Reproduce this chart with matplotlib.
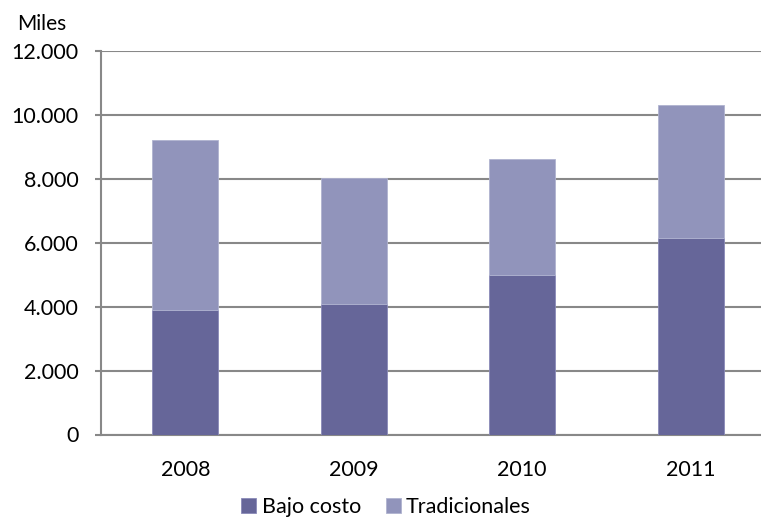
import matplotlib
matplotlib.use("Agg")
import matplotlib.pyplot as plt
import numpy as np

years = ["2008", "2009", "2010", "2011"]
bajo_costo = [3890, 4080, 5000, 6150]
tradicionales = [5340, 3940, 3610, 4170]
yticks = [0, 2000, 4000, 6000, 8000, 10000, 12000]
ytick_labels = ["0", "2.000", "4.000", "6.000", "8.000", "10.000", "12.000"]

plt.rcParams['font.family'] = ['Lato', 'DejaVu Sans']

W, H = 761, 517
fig = plt.figure(figsize=(W/100, H/100), dpi=100)
ax = fig.add_axes([101/W, (H-434.5)/H, (W-101)/W, (434.5-51)/H])

x = np.arange(len(years))
c1 = "#666699"
c2 = "#9194BB"
ax.bar(x, bajo_costo, width=0.39, color=c1, edgecolor="#8A8AB8", linewidth=0.6, label="Bajo costo", zorder=3)
ax.bar(x, tradicionales, bottom=bajo_costo, width=0.39, color=c2, edgecolor="#B0B3D0", linewidth=0.6, label="Tradicionales", zorder=3)

ax.set_xlim(-0.5, -0.5 + (W-101)/168.5)
ax.set_ylim(0, 12000)
ax.set_yticks(yticks)
ax.set_yticklabels(ytick_labels, fontsize=15.5)
ax.set_xticks(x)
ax.set_xticklabels(years, fontsize=15.5)
ax.yaxis.grid(True, color="#888888", linewidth=1.5, zorder=0)
ax.set_axisbelow(True)
for s in ["top", "right"]:
    ax.spines[s].set_visible(False)
ax.spines["left"].set_color("#888888")
ax.spines["left"].set_linewidth(1.5)
ax.spines["bottom"].set_color("#888888")
ax.spines["bottom"].set_linewidth(1.5)
ax.tick_params(axis="y", length=4.3, width=1.5, color="#888888", pad=12)
ax.tick_params(axis="x", length=0, pad=18)

fig.text(17/W, 1 - 24/H, "Miles", fontsize=15, ha="left", va="center")

leg = fig.legend(loc="center", bbox_to_anchor=(386/W, 1 - 507/H), ncol=2, frameon=False,
                 fontsize=15.5, handlelength=0.7, handleheight=0.7, handletextpad=0.25,
                 columnspacing=1.15, borderpad=0.0)

fig.savefig("out.png", dpi=100)
